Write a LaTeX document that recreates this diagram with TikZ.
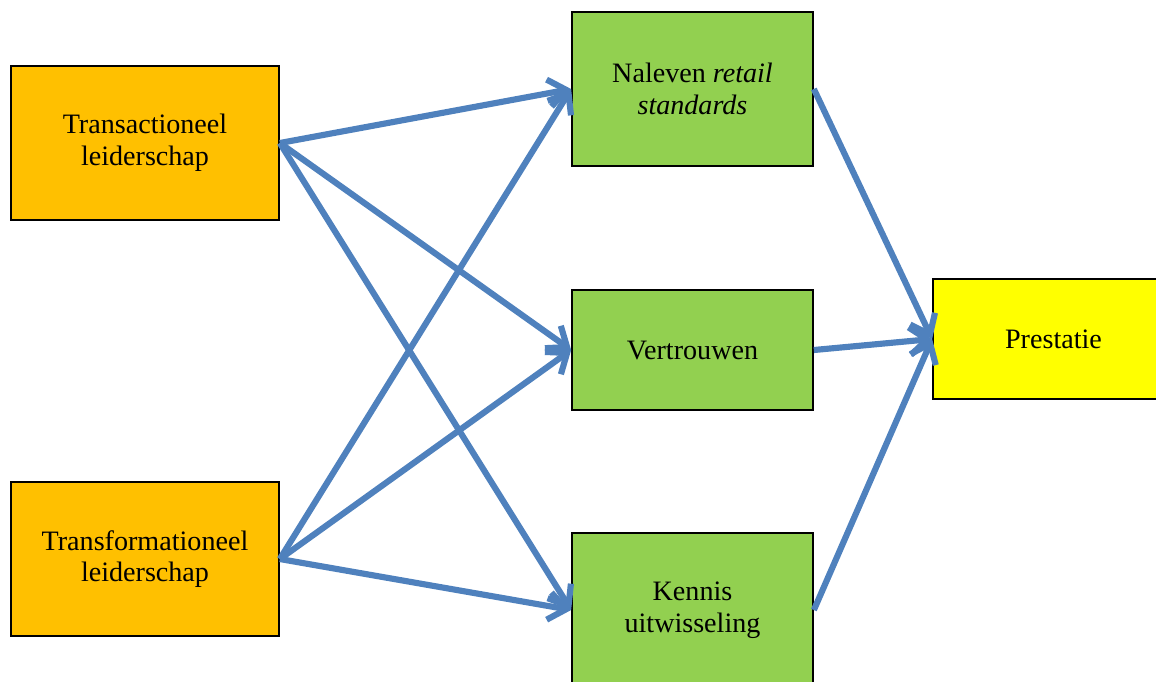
\documentclass[tikz,border=0pt]{standalone}
\usepackage{fontspec}
\setmainfont{Liberation Serif}
\usetikzlibrary{arrows.meta}
\definecolor{leidkleur}{RGB}{255,192,0}
\definecolor{mediatorkleur}{RGB}{146,208,80}
\definecolor{uitkomstkleur}{RGB}{255,255,0}
\definecolor{pijlkleur}{RGB}{79,129,189}
\tikzset{
  blok/.style={draw=black, line width=1pt, align=center, inner sep=0pt,
    font=\fontsize{16}{18}\selectfont},
  pijl/.style={pijlkleur, line width=3.5pt, -{Straight Barb[length=3.5mm, width=5.5mm]}}
}
\begin{document}
\begin{tikzpicture}[x=0.02cm, y=-0.02cm]
    \clip (0,0) rectangle (1156,681);
    \node[blok, fill=leidkleur, minimum width=5.36cm, minimum height=3.08cm]
      (trans) at (145,143) {Transactioneel\\leiderschap};
    \node[blok, fill=leidkleur, minimum width=5.36cm, minimum height=3.08cm]
      (transf) at (145,559) {Transformationeel\\leiderschap};
    \node[blok, fill=mediatorkleur, minimum width=4.82cm, minimum height=3.08cm]
      (naleven) at (692.5,89) {Naleven \textit{retail}\\\textit{standards}};
    \node[blok, fill=mediatorkleur, minimum width=4.82cm, minimum height=2.4cm]
      (vertr) at (692.5,350) {Vertrouwen};
    \node[blok, fill=mediatorkleur, minimum width=4.82cm, minimum height=3.08cm]
      (kennis) at (692.5,610) {Kennis\\uitwisseling};
    \node[blok, fill=uitkomstkleur, minimum width=4.82cm, minimum height=2.4cm]
      (prest) at (1053.5,339) {Prestatie};
    \foreach \bron in {trans, transf}{
      \foreach \doel in {naleven, vertr, kennis}{
        \draw[pijl] (\bron.east) -- (\doel.west);
      }
    }
    \foreach \doel in {naleven, vertr, kennis}{
      \draw[pijl] (\doel.east) -- (prest.west);
    }
  \end{tikzpicture}
\end{document}
